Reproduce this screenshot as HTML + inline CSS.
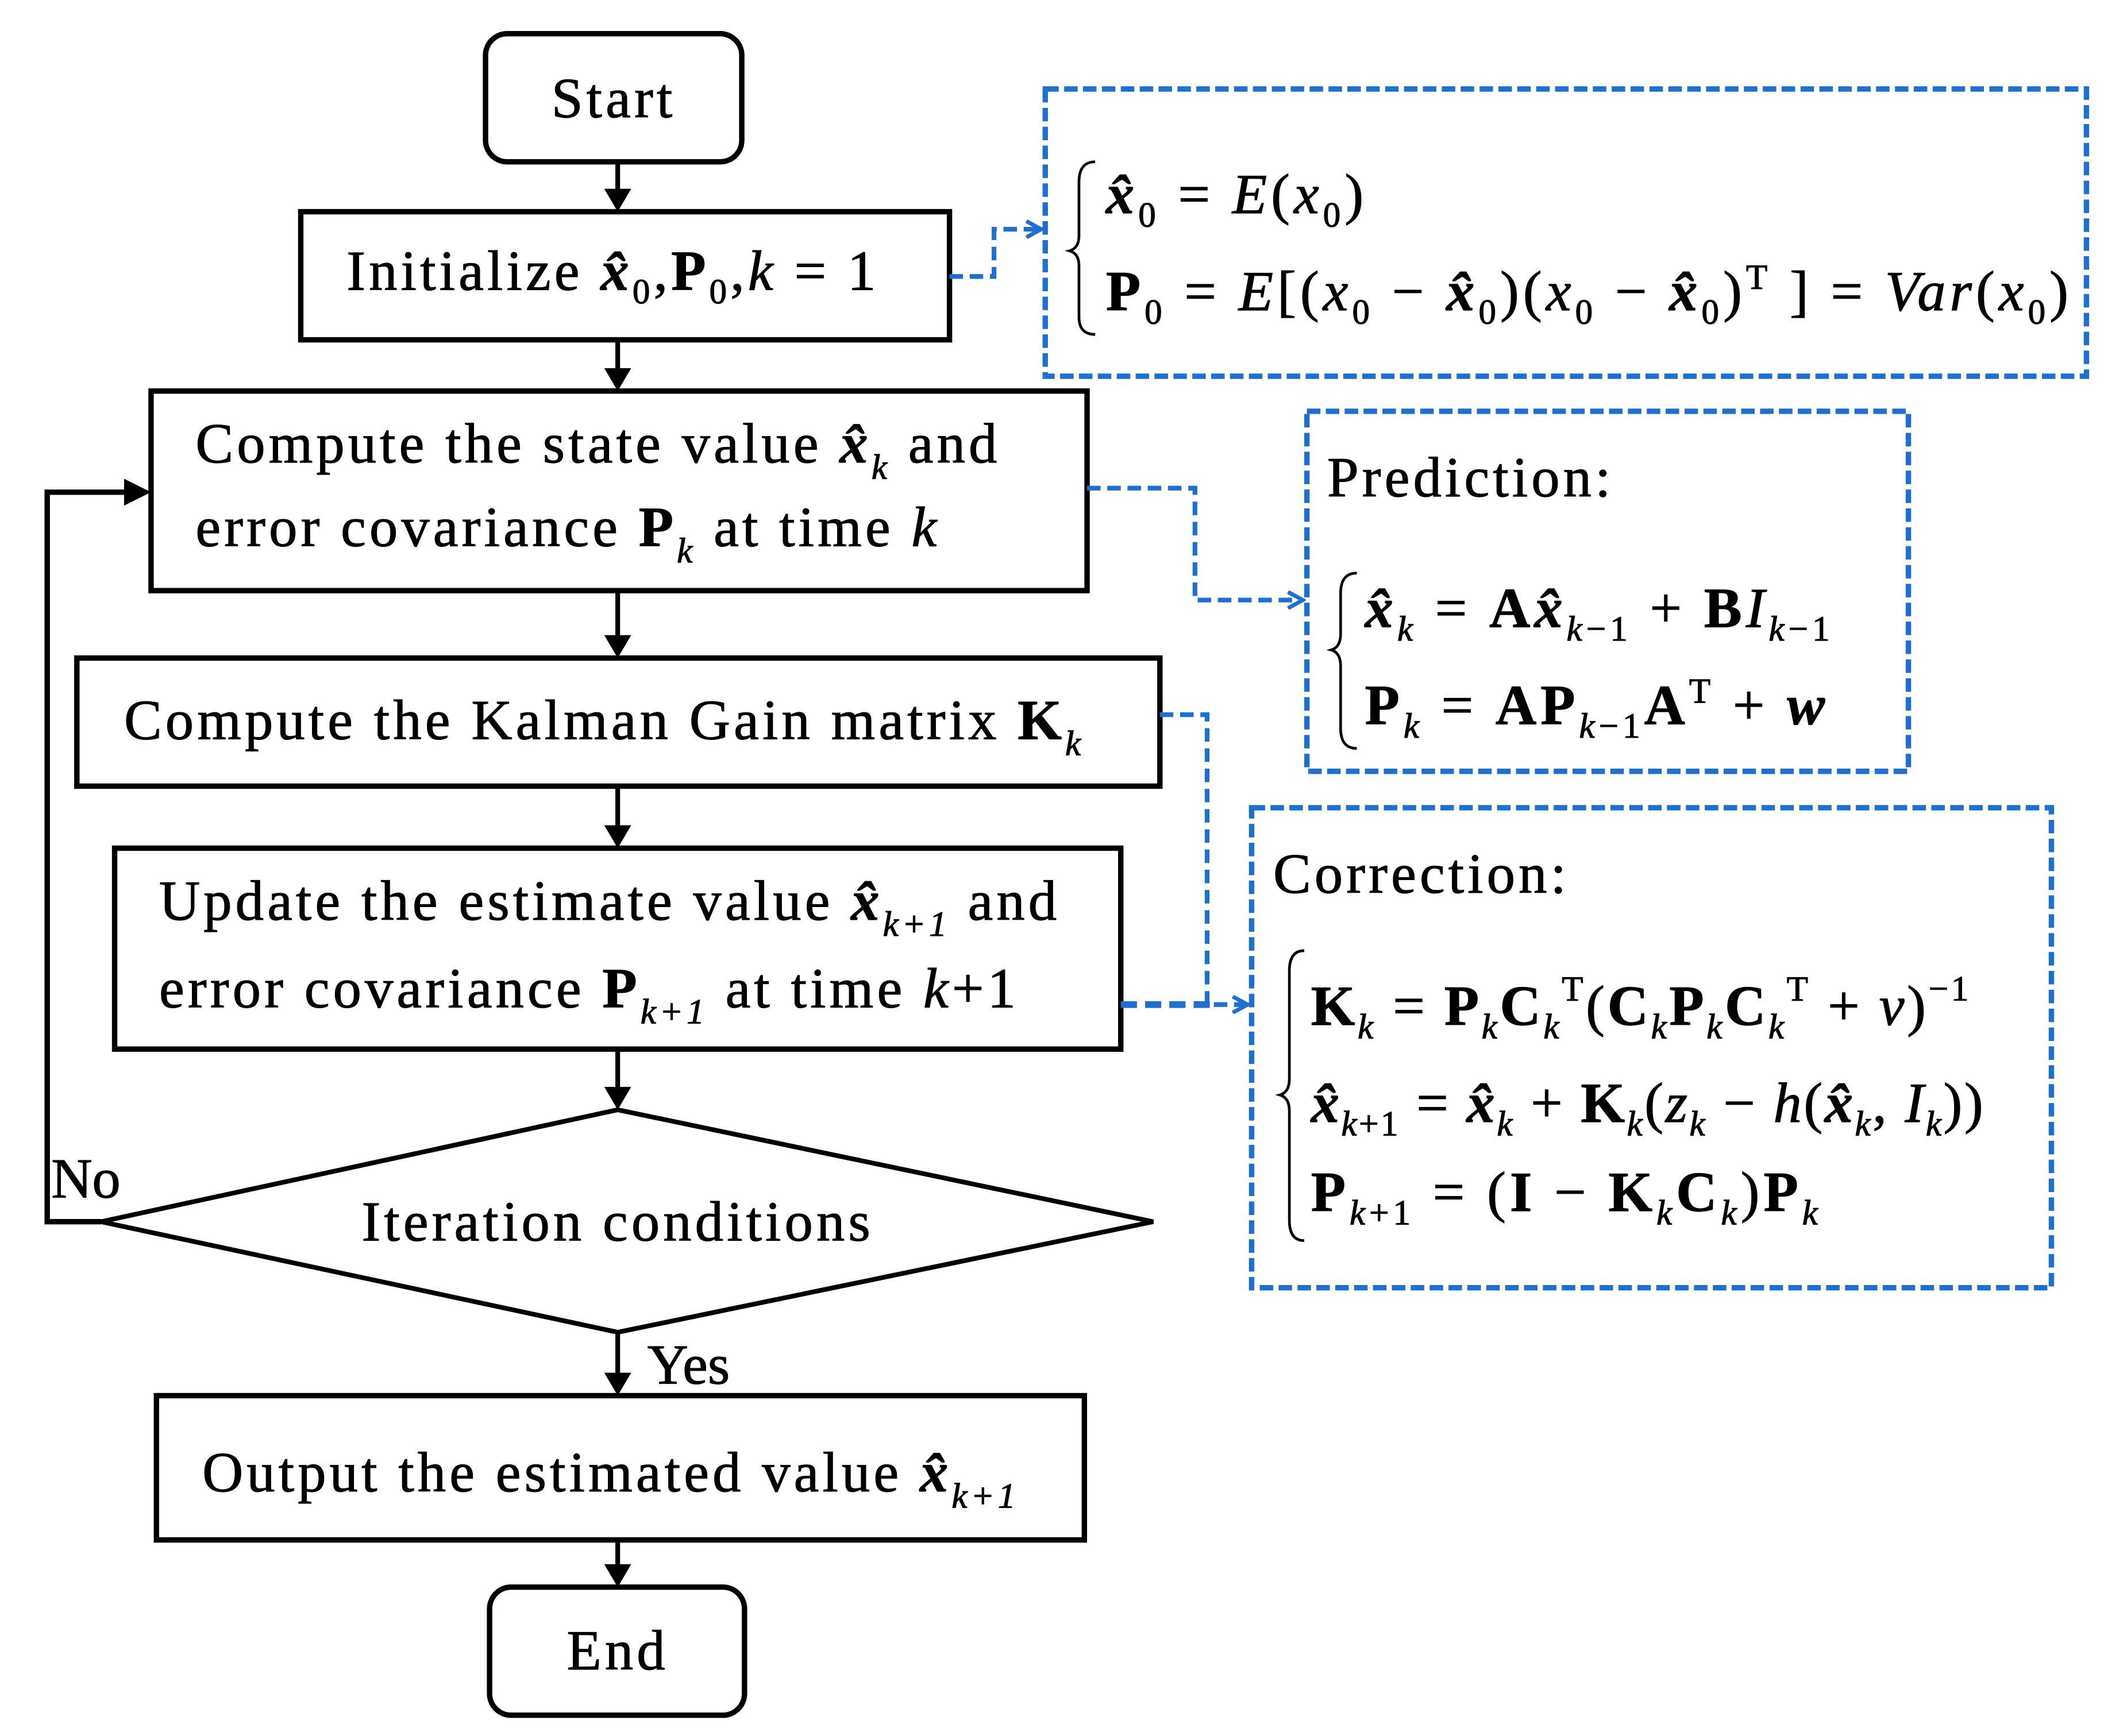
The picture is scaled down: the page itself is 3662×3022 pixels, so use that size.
<!DOCTYPE html>
<html><head><meta charset="utf-8"><style>
html,body{margin:0;padding:0;background:#fff;}
svg{display:block;}
text{font-family:"Liberation Serif",serif;fill:#000;stroke:#000;stroke-width:0.5;}
.b{font-weight:bold;}
.i{font-style:italic;}
.fc{letter-spacing:2.6px;}
.m{letter-spacing:3px;}
</style></head><body>
<svg width="3662" height="3022" viewBox="0 0 1560 1287.4" preserveAspectRatio="none" xmlns="http://www.w3.org/2000/svg">
<defs>
<marker id="ahb" markerWidth="14" markerHeight="14" refX="12" refY="7" orient="auto" markerUnits="userSpaceOnUse" viewBox="0 0 14 14">
<path d="M1,1 L12,7 L1,13" fill="none" stroke="#1f6fcf" stroke-width="3"/></marker>
</defs>
<g fill="none" stroke="#000" stroke-width="4">
<rect x="360" y="25" width="190" height="95" rx="16"/>
<rect x="223" y="157" width="481" height="95"/>
<rect x="112" y="290" width="694" height="148"/>
<rect x="57" y="488" width="803" height="95"/>
<rect x="85" y="629" width="746" height="149"/>
<polygon points="458,823 855,906 458,988 75,906" stroke-width="3.5"/>
<rect x="116" y="1035" width="688" height="107"/>
<rect x="363" y="1177" width="189" height="95" rx="16"/>
<polyline points="75,906 35,906 35,365 92,365"/>
</g>
<path d="M92,355 L112,365 L92,375 z" fill="#000"/>
<g stroke="#000" stroke-width="3.5">
<line x1="458" y1="120" x2="458" y2="142"/><line x1="458" y1="252" x2="458" y2="276"/>
<line x1="458" y1="438" x2="458" y2="472"/><line x1="458" y1="583" x2="458" y2="614"/>
<line x1="458" y1="778" x2="458" y2="808"/><line x1="458" y1="988" x2="458" y2="1020"/>
<line x1="458" y1="1142" x2="458" y2="1163"/>
</g>
<g fill="#000">
<path d="M448,140 L458,157 L468,140 z"/><path d="M448,273 L458,290 L468,273 z"/>
<path d="M448,471 L458,488 L468,471 z"/><path d="M448,612 L458,629 L468,612 z"/>
<path d="M448,806 L458,823 L468,806 z"/><path d="M448,1018 L458,1035 L468,1018 z"/>
<path d="M448,1160 L458,1177 L468,1160 z"/>
</g>
<g fill="none" stroke="#1f6fcf" stroke-width="4" stroke-dasharray="10,4">
<rect x="775" y="66" width="772" height="213"/>
<rect x="969" y="305" width="446" height="267"/>
<rect x="928" y="599" width="593" height="356"/>
</g>
<g fill="none" stroke="#1f6fcf" stroke-width="3.5" stroke-dasharray="10,5">
<polyline points="704,205 737,205 737,170 772,170" marker-end="url(#ahb)"/>
<polyline points="806,362 886,362 886,445 966,445" marker-end="url(#ahb)"/>
<polyline points="860,530 895,530 895,745 925,745" marker-end="url(#ahb)"/>
</g>
<line x1="831" y1="745" x2="900" y2="745" stroke="#1f6fcf" stroke-width="5" stroke-dasharray="12,6"/>
<g font-size="42" class="fc">
<text x="455" y="87" text-anchor="middle">Start</text>
<text x="257" y="215">Initialize  <tspan class="i b">x̂</tspan><tspan font-size="26" dy="10">0</tspan><tspan dy="-10">,</tspan><tspan class="b">P</tspan><tspan font-size="26" dy="10">0</tspan><tspan dy="-10">,</tspan><tspan class="i">k</tspan> = 1</text>
<text x="145" y="343">Compute the state value  <tspan class="i b">x̂</tspan><tspan class="i" font-size="26" dy="12">k</tspan><tspan dy="-12">   and</tspan></text>
<text x="145" y="405">error covariance  <tspan class="b">P</tspan><tspan class="i" font-size="26" dy="12">k</tspan><tspan dy="-12">   at time  </tspan><tspan class="i">k</tspan></text>
<text x="92" y="548">Compute the Kalman Gain matrix  <tspan class="b">K</tspan><tspan class="i" font-size="26" dy="12">k</tspan></text>
<text x="118" y="682">Update the estimate value  <tspan class="i b">x̂</tspan><tspan class="i" font-size="26" dy="12">k+1</tspan><tspan dy="-12">  and</tspan></text>
<text x="118" y="747">error covariance  <tspan class="b">P</tspan><tspan class="i" font-size="26" dy="12">k+1</tspan><tspan dy="-12">  at time  </tspan><tspan class="i">k</tspan>+1</text>
<text x="458" y="920" text-anchor="middle">Iteration conditions</text>
<text x="150" y="1106">Output the estimated value  <tspan class="i b">x̂</tspan><tspan class="i" font-size="26" dy="12">k+1</tspan></text>
<text x="458" y="1238" text-anchor="middle">End</text>
<text x="38" y="888" style="letter-spacing:0">No</text>
<text x="480" y="1026" style="letter-spacing:0">Yes</text>
<text x="984" y="368">Prediction:</text>
<text x="944" y="662">Correction:</text>
</g>
<g font-size="42" class="m">
<path d="M812,120 Q800,120 800,135 L800,175 Q800,184 793,186 Q800,188 800,197 L800,235 Q800,248 812,248" fill="none" stroke="#000" stroke-width="2"/>
<text x="820" y="158"><tspan class="i b">x̂</tspan><tspan font-size="26" dy="10">0</tspan><tspan dy="-10"> = </tspan><tspan class="i">E</tspan>(<tspan class="i">x</tspan><tspan font-size="26" dy="10">0</tspan><tspan dy="-10">)</tspan></text>
<text x="820" y="230"><tspan class="b">P</tspan><tspan font-size="26" dy="10">0</tspan><tspan dy="-10"> = </tspan><tspan class="i">E</tspan>[(<tspan class="i">x</tspan><tspan font-size="26" dy="10">0</tspan><tspan dy="-10"> − </tspan><tspan class="i b">x̂</tspan><tspan font-size="26" dy="10">0</tspan><tspan dy="-10">)(</tspan><tspan class="i">x</tspan><tspan font-size="26" dy="10">0</tspan><tspan dy="-10"> − </tspan><tspan class="i b">x̂</tspan><tspan font-size="26" dy="10">0</tspan><tspan dy="-10">)</tspan><tspan font-size="26" dy="-16">T</tspan><tspan dy="16"> ] = </tspan><tspan class="i">Var</tspan>(<tspan class="i">x</tspan><tspan font-size="26" dy="10">0</tspan><tspan dy="-10">)</tspan></text>
<path d="M1006,425 Q994,425 994,440 L994,470 Q994,480 987,482 Q994,484 994,494 L994,540 Q994,555 1006,555" fill="none" stroke="#000" stroke-width="2"/>
<text x="1012" y="465"><tspan class="i b">x̂</tspan><tspan class="i" font-size="26" dy="10">k</tspan><tspan dy="-10"> = </tspan><tspan class="b">A</tspan><tspan class="i b">x̂</tspan><tspan class="i" font-size="26" dy="10">k</tspan><tspan font-size="26">−1</tspan><tspan dy="-10"> + </tspan><tspan class="b">B</tspan><tspan class="i">I</tspan><tspan class="i" font-size="26" dy="10">k</tspan><tspan font-size="26">−1</tspan></text>
<text x="1012" y="537"><tspan class="b">P</tspan><tspan class="i" font-size="26" dy="10">k</tspan><tspan dy="-10"> = </tspan><tspan class="b">AP</tspan><tspan class="i" font-size="26" dy="10">k</tspan><tspan font-size="26">−1</tspan><tspan class="b" dy="-10">A</tspan><tspan font-size="26" dy="-16">T</tspan><tspan dy="16"> + </tspan><tspan class="i b">w</tspan></text>
<path d="M967,705 Q956,705 956,720 L956,800 Q956,810 949,812 Q956,814 956,824 L956,905 Q956,920 967,920" fill="none" stroke="#000" stroke-width="2"/>
<text x="972" y="760" style="letter-spacing:2px"><tspan class="b">K</tspan><tspan class="i" font-size="26" dy="10">k</tspan><tspan dy="-10"> = </tspan><tspan class="b">P</tspan><tspan class="i" font-size="26" dy="10">k</tspan><tspan class="b" dy="-10">C</tspan><tspan class="i" font-size="26" dy="10">k</tspan><tspan font-size="26" dy="-28">T</tspan><tspan dy="18">(</tspan><tspan class="b">C</tspan><tspan class="i" font-size="26" dy="10">k</tspan><tspan class="b" dy="-10">P</tspan><tspan class="i" font-size="26" dy="10">k</tspan><tspan class="b" dy="-10">C</tspan><tspan class="i" font-size="26" dy="10">k</tspan><tspan font-size="26" dy="-28">T</tspan><tspan dy="18"> + </tspan><tspan class="i">v</tspan>)<tspan font-size="26" dy="-18">−1</tspan></text>
<text x="972" y="832" style="letter-spacing:1.5px"><tspan class="i b">x̂</tspan><tspan class="i" font-size="26" dy="10">k</tspan><tspan font-size="26">+1</tspan><tspan dy="-10"> = </tspan><tspan class="i b">x̂</tspan><tspan class="i" font-size="26" dy="10">k</tspan><tspan dy="-10"> + </tspan><tspan class="b">K</tspan><tspan class="i" font-size="26" dy="10">k</tspan><tspan dy="-10">(</tspan><tspan class="i">z</tspan><tspan class="i" font-size="26" dy="10">k</tspan><tspan dy="-10"> − </tspan><tspan class="i">h</tspan>(<tspan class="i b">x̂</tspan><tspan class="i" font-size="26" dy="10">k</tspan><tspan dy="-10">, </tspan><tspan class="i">I</tspan><tspan class="i" font-size="26" dy="10">k</tspan><tspan dy="-10">))</tspan></text>
<text x="972" y="898"><tspan class="b">P</tspan><tspan class="i" font-size="26" dy="10">k</tspan><tspan font-size="26">+1</tspan><tspan dy="-10"> = (</tspan><tspan class="b">I</tspan> − <tspan class="b">K</tspan><tspan class="i" font-size="26" dy="10">k</tspan><tspan class="b" dy="-10">C</tspan><tspan class="i" font-size="26" dy="10">k</tspan><tspan dy="-10">)</tspan><tspan class="b">P</tspan><tspan class="i" font-size="26" dy="10">k</tspan></text>
</g>
</svg>
</body></html>
